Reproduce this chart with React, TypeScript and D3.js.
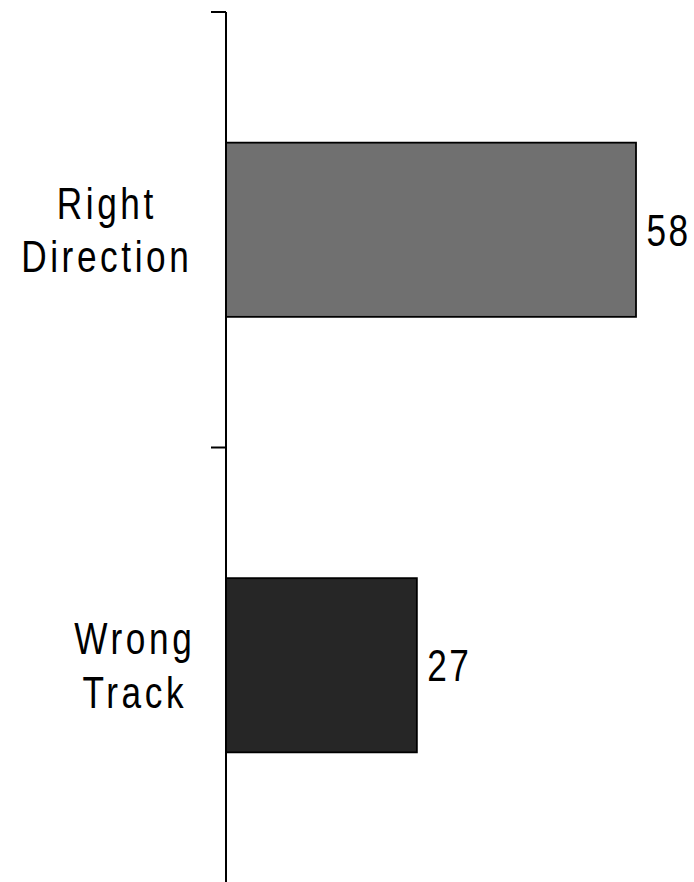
import React from "react";
import * as d3 from "d3";

const categories: string[][] = [["Right", "Direction"], ["Wrong", "Track"]];
const values: number[] = [58, 27];
const barColors: string[] = ["#707070", "#262626"];

const W = 694;
const H = 882;
const FONT = "'Liberation Sans', Arial, sans-serif";
const FS = 44;
const SX = 0.8; // horizontal condensing of the glyphs
const LS = 4.5;
// horizontal centre of each category label block (layout only)
const labelCenterX = [105, 133];

export default function App() {
  const x = d3.scaleLinear().domain([0, 58]).range([226, 636]);
  const y = d3
    .scaleBand<number>()
    .domain(d3.range(values.length))
    .range([12, 883])
    .paddingInner(0.6)
    .paddingOuter(0.3);
  const step = y.step();
  const bounds = d3.range(values.length).map((i) => 12 + i * step);

  return (
    <svg
      width={W}
      height={H}
      style={{ position: "absolute", left: 0, top: 0, background: "#fff" }}
    >
      {values.map((v, i) => {
        const y0 = y(i)!;
        const bw = y.bandwidth();
        const cy = y0 + bw / 2;
        return (
          <g key={i}>
            <rect
              x={x(0)}
              y={y0}
              width={x(v) - x(0)}
              height={bw}
              fill={barColors[i]}
              stroke="#000"
              strokeWidth={1.8}
            />
            <g transform={`translate(${x(v) + 10.5},${cy + 15.8}) scale(${SX},1)`}>
              <text x={0} y={0} fontFamily={FONT} fontSize={FS} letterSpacing={3} fill="#000">
                {v}
              </text>
            </g>
            <g transform={`translate(${labelCenterX[i]},${cy}) scale(${SX},1)`}>
              <text
                textAnchor="middle"
                fontFamily={FONT}
                fontSize={FS}
                letterSpacing={LS}
                fill="#000"
              >
                {categories[i].map((line, j) => (
                  <tspan key={j} x={LS / 2} y={-11 + j * 53.5}>
                    {line}
                  </tspan>
                ))}
              </text>
            </g>
          </g>
        );
      })}
      <line x1={226} x2={226} y1={12} y2={H} stroke="#000" strokeWidth={2} />
      {bounds.map((b, i) => (
        <line key={i} x1={211} x2={226} y1={b} y2={b} stroke="#000" strokeWidth={2} />
      ))}
    </svg>
  );
}
